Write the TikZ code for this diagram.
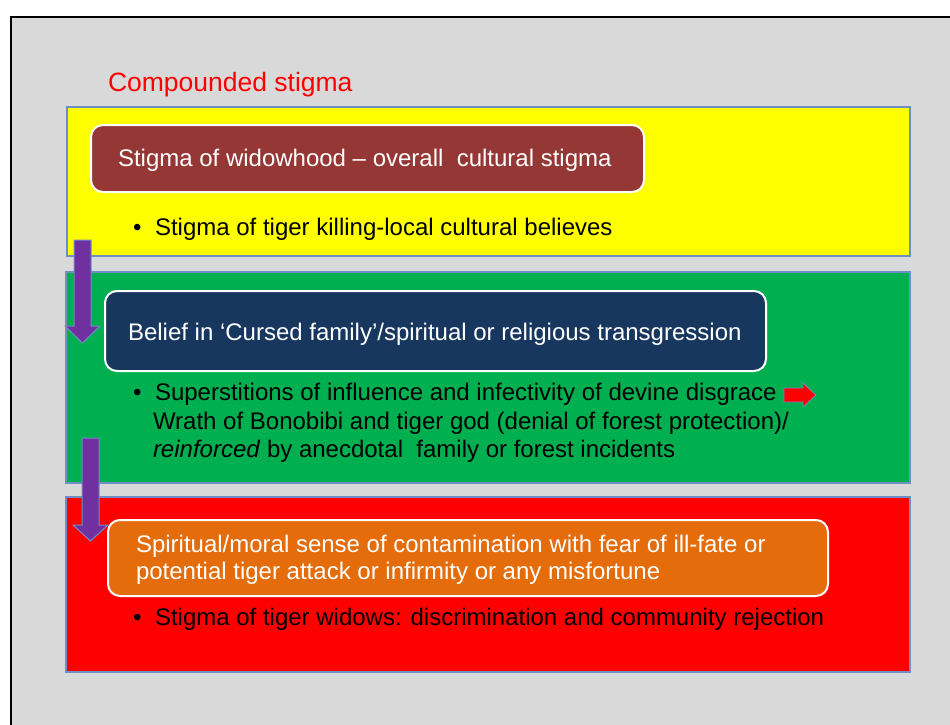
\documentclass[tikz,border=0pt]{standalone}
\usepackage{fontspec}
\setmainfont{Liberation Sans}
\usepackage{xcolor}
\usepackage{tikz}
\usetikzlibrary{positioning}

\definecolor{slidegray}{HTML}{D9D9D9}
\definecolor{edgeblue}{HTML}{6E8FC4}
\definecolor{layeryellow}{HTML}{FFFF00}
\definecolor{layergreen}{HTML}{00B050}
\definecolor{layerred}{HTML}{FF0000}
\definecolor{tagbrown}{HTML}{953735}
\definecolor{tagnavy}{HTML}{17375E}
\definecolor{tagorange}{HTML}{E46C0A}
\definecolor{arrowpurple}{HTML}{7030A0}

\begin{document}
\begin{tikzpicture}[x=1pt, y=-1pt,
    layer/.style={draw=edgeblue, line width=1.2pt, inner sep=0pt, outer sep=0pt, anchor=north west},
    tag/.style={draw=white, line width=2pt, rounded corners=12pt, inner sep=0pt, outer sep=0pt, anchor=north west},
    txt/.style={anchor=base west, inner sep=0pt, outer sep=0pt, font=\fontsize{24}{29}\selectfont},
    wtxt/.style={txt, text=white},
    blockarrow/.style={fill=arrowpurple, draw=edgeblue, line width=1pt}]
    \useasboundingbox (0,0) rectangle (950,724);
    % slide background
    \fill[slidegray] (11,17) rectangle (952,726);
    \draw[line width=2pt] (11,726) -- (11,17) -- (952,17);

    \node[txt, text=red, font=\fontsize{26.5}{30}\selectfont] (title) at (108,91) {Compounded stigma};

    % three layers
    \node[layer, fill=layeryellow, minimum width=843, minimum height=149] (yellow) at (67,107) {};
    \node[layer, fill=layergreen, minimum width=844, minimum height=211] (green) at (66,272) {};
    \node[layer, fill=layerred, minimum width=844, minimum height=175] (redlayer) at (66,497) {};

    % yellow layer
    \node[tag, fill=tagbrown, minimum width=553, minimum height=67] (widowhood) at (91,125) {};
    \node[wtxt] (widowhoodtxt) at (118,166) {Stigma of widowhood -- overall\ \ cultural stigma};
    \node[txt] (bulleta) at (133,235) {•};
    \node[txt] (killing) at (155,235) {Stigma of tiger killing-local cultural believes};

    % green layer
    \node[tag, fill=tagnavy, minimum width=661, minimum height=80] (cursed) at (105,291) {};
    \node[wtxt] (cursedtxt) at (128,340) {Belief in ‘Cursed family’/spiritual or religious transgression};
    \node[txt] (bulletb) at (133,400) {•};
    \node[txt] (superst) at (155,400) {Superstitions of influence and infectivity of devine disgrace};
    \node[txt] (wrath) at (153,429) {Wrath of Bonobibi and tiger god (denial of forest protection)/};
    \node[txt] (reinf) at (153,457) {\textit{reinforced} by anecdotal\ \ family or forest incidents};
    \draw[fill=red, draw=edgeblue, line width=0.8pt]
        (784,388) -- (803,388) -- (803,383) -- (816,395) -- (803,407) -- (803,402) -- (784,402) -- cycle;

    % arrow from yellow to green
    \draw[blockarrow] (74,240) -- (91,240) -- (91,326) -- (100,326) -- (82.5,343) -- (65,326) -- (74,326) -- cycle;
    % arrow from green to red
    \draw[blockarrow] (82,438) -- (99,438) -- (99,525) -- (108,525) -- (90.5,541) -- (73,525) -- (82,525) -- cycle;

    % red layer
    \node[tag, fill=tagorange, minimum width=720, minimum height=76] (contam) at (108,520) {};
    \node[wtxt] (contamtxta) at (136,552) {Spiritual/moral sense of contamination with fear of ill-fate or};
    \node[wtxt] (contamtxtb) at (136,579) {potential tiger attack or infirmity or any misfortune};
    \node[txt] (bulletc) at (133,625) {•};
    \node[txt] (widows) at (155,625) {Stigma of tiger widows: discrimination and community rejection};
\end{tikzpicture}
\end{document}
